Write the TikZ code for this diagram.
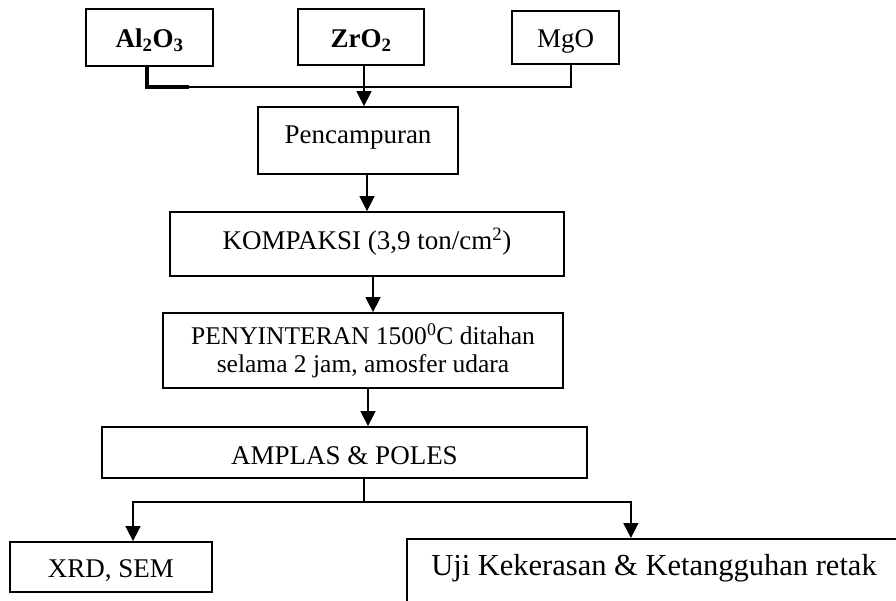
\documentclass[tikz,border=0pt]{standalone}
\usepackage{fontspec}
\setmainfont{Liberation Serif}
\usetikzlibrary{arrows.meta,calc}
\tikzset{
  box/.style={draw, line width=1.8pt, inner sep=0pt, align=center,
    font=\fontsize{27}{28}\selectfont},
  oneline/.style={text height=#1, text depth=0pt},
  conn/.style={line width=1.6pt},
  arr/.style={conn, -{Triangle[width=15pt,length=15pt]}}
}
\begin{document}
\begin{tikzpicture}[x=1pt,y=-1pt]
\useasboundingbox (0,0) rectangle (896,601);
\clip (0,0) rectangle (896,601);
% top row
\node[box, oneline=21pt, minimum width=127pt, minimum height=57pt] (al) at (149.5,37.5) {\textbf{Al\textsubscript{2}O\textsubscript{3}}};
\node[box, oneline=21pt, minimum width=126pt, minimum height=56pt] (zr) at (361,37) {\textbf{ZrO\textsubscript{2}}};
\node[box, oneline=21pt, minimum width=107pt, minimum height=53pt] (mgo) at (565.5,37.5) {MgO};
% process boxes
\node[box, oneline=6pt, minimum width=200pt, minimum height=67pt] (pen) at (358,140.5) {Pencampuran};
\node[box, oneline=11pt, minimum width=394pt, minimum height=64pt] (kom) at (367,244) {KOMPAKSI (3,9 ton/cm\textsuperscript{2})};
\node[box, minimum width=400pt, minimum height=75pt, font=\fontsize{25.5}{28}\selectfont] (sin) at (363,350.5) {PENYINTERAN 1500\textsuperscript{0}C ditahan\\selama 2 jam, amosfer udara};
\node[box, oneline=24pt, minimum width=485pt, minimum height=51pt] (amp) at (344.5,452.5) {AMPLAS \& POLES};
\node[box, oneline=21pt, minimum width=202pt, minimum height=50pt] (xrd) at (111,567) {XRD, SEM};
\node[box, anchor=north west, minimum width=520pt, minimum height=100pt] (ujibox) at (406,538) {};
\node[font=\fontsize{30.5}{32}\selectfont, inner sep=0pt] (uji) at (654,568) {Uji Kekerasan \& Ketangguhan retak};
% junction at top
\coordinate (jn) at (364,87);
\draw[conn] ([xshift=-2.5pt]al.south) |- (jn) -| ([xshift=5.5pt]mgo.south);
\draw[line width=4.5pt] ([xshift=-2.5pt]al.south) -- ([xshift=-2.5pt]al.south |- jn) -- ++(42,0);
\draw[arr] ([xshift=3pt]zr.south) -- ([xshift=3pt]zr.south |- pen.north);
% chain
\draw[arr] (kom.north |- pen.south) -- (kom.north);
\draw[arr] ([xshift=6pt]kom.south) -- ([xshift=6pt]kom.south |- sin.north);
\draw[arr] ([xshift=5pt]sin.south) -- ([xshift=5pt]sin.south |- amp.north);
% branch
\coordinate (br) at (364,502);
\draw[conn] ([xshift=19.5pt]amp.south) -- (br);
\draw[arr] (br) -| ([xshift=22pt]xrd.north);
\draw[arr] (br) -| ([xshift=-36pt]ujibox.north);
\end{tikzpicture}
\end{document}
